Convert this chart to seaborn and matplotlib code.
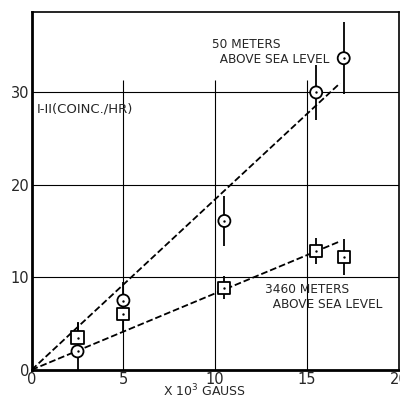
import numpy as np
import pandas as pd
import matplotlib
matplotlib.use("Agg")
import matplotlib.pyplot as plt
import seaborn as sns

# field in units of 10^3 gauss
field = [2.5, 5, 10.5, 15.5, 17]

# 50 m above sea level (circles)
sea_rate = [2.0, 7.5, 16.1, 30.0, 33.7]
sea_err = [3.1, 2.0, 2.7, 3.0, 3.9]

# 3460 m above sea level (squares)
mtn_rate = [3.5, 6.0, 8.9, 12.9, 12.2]
mtn_err = [1.7, 1.8, 1.2, 1.4, 1.9]

# dashed lines through the origin
fit_x = [0, 16.8]
fit_sea = [0, 31.0]
fit_mtn = [0, 13.9]

df = pd.DataFrame({"field": field * 2,
                   "rate": sea_rate + mtn_rate,
                   "err": sea_err + mtn_err,
                   "site": ["sea"] * 5 + ["mtn"] * 5})
fits = pd.DataFrame({"field": fit_x * 2, "rate": fit_sea + fit_mtn,
                     "site": ["sea"] * 2 + ["mtn"] * 2})

sns.set_style("white")
plt.rcParams['font.family'] = ['DejaVu Sans']

fig = plt.figure(figsize=(4, 3.99), dpi=100)
ax = fig.add_axes([0.079, 0.073, 0.918, 0.897])

# grid: full horizontals, verticals stopping below the top
for y in [10, 20, 30]:
    ax.axhline(y, color="black", lw=0.8, zorder=1)
for x in [5, 10, 15]:
    ax.vlines(x, 0, 31.3, color="black", lw=0.8, zorder=1)

sns.lineplot(data=fits, x="field", y="rate", units="site", estimator=None,
             color="black", lw=1.3, dashes=(5, 3), linestyle="--", ax=ax, zorder=2)

for site in ["sea", "mtn"]:
    d = df[df.site == site]
    ax.errorbar(d.field, d.rate, yerr=d.err, fmt="none", ecolor="black",
                elinewidth=1.3, capsize=0, zorder=3)

sns.scatterplot(data=df, x="field", y="rate", style="site",
                markers={"sea": "o", "mtn": "s"}, s=75, facecolor="white",
                edgecolor="black", linewidth=1.3, legend=False, ax=ax, zorder=4)
sns.scatterplot(data=df, x="field", y="rate", s=3, color="black",
                linewidth=0, legend=False, ax=ax, zorder=5)

ax.set_xlim(0, 20)
ax.set_ylim(0, 38.7)
ax.set_xticks([0, 5, 10, 15, 20])
ax.set_yticks([0, 10, 20, 30])
ax.tick_params(length=0, labelsize=10.5, pad=1.5)
ax.set_xlabel("")
ax.set_ylabel("")
for side in ["left", "bottom"]:
    ax.spines[side].set_linewidth(2)
for side in ["top", "right"]:
    ax.spines[side].set_linewidth(1.2)
for s in ax.spines.values():
    s.set_color("black")

ax.text(0.3, 28.2, "I-II(COINC./HR)", fontsize=9.5, va="center", ha="left")
ax.text(9.8, 35.9, "50 METERS\n  ABOVE SEA LEVEL", fontsize=8.7, va="top",
        ha="left", linespacing=1.25)
ax.text(12.7, 9.4, "3460 METERS\n  ABOVE SEA LEVEL", fontsize=8.7, va="top",
        ha="left", linespacing=1.25)
ax.text(9.4, -2.3, "X 10$^3$ GAUSS", fontsize=9, va="center", ha="center")

fig.savefig("out.png", dpi=100)
